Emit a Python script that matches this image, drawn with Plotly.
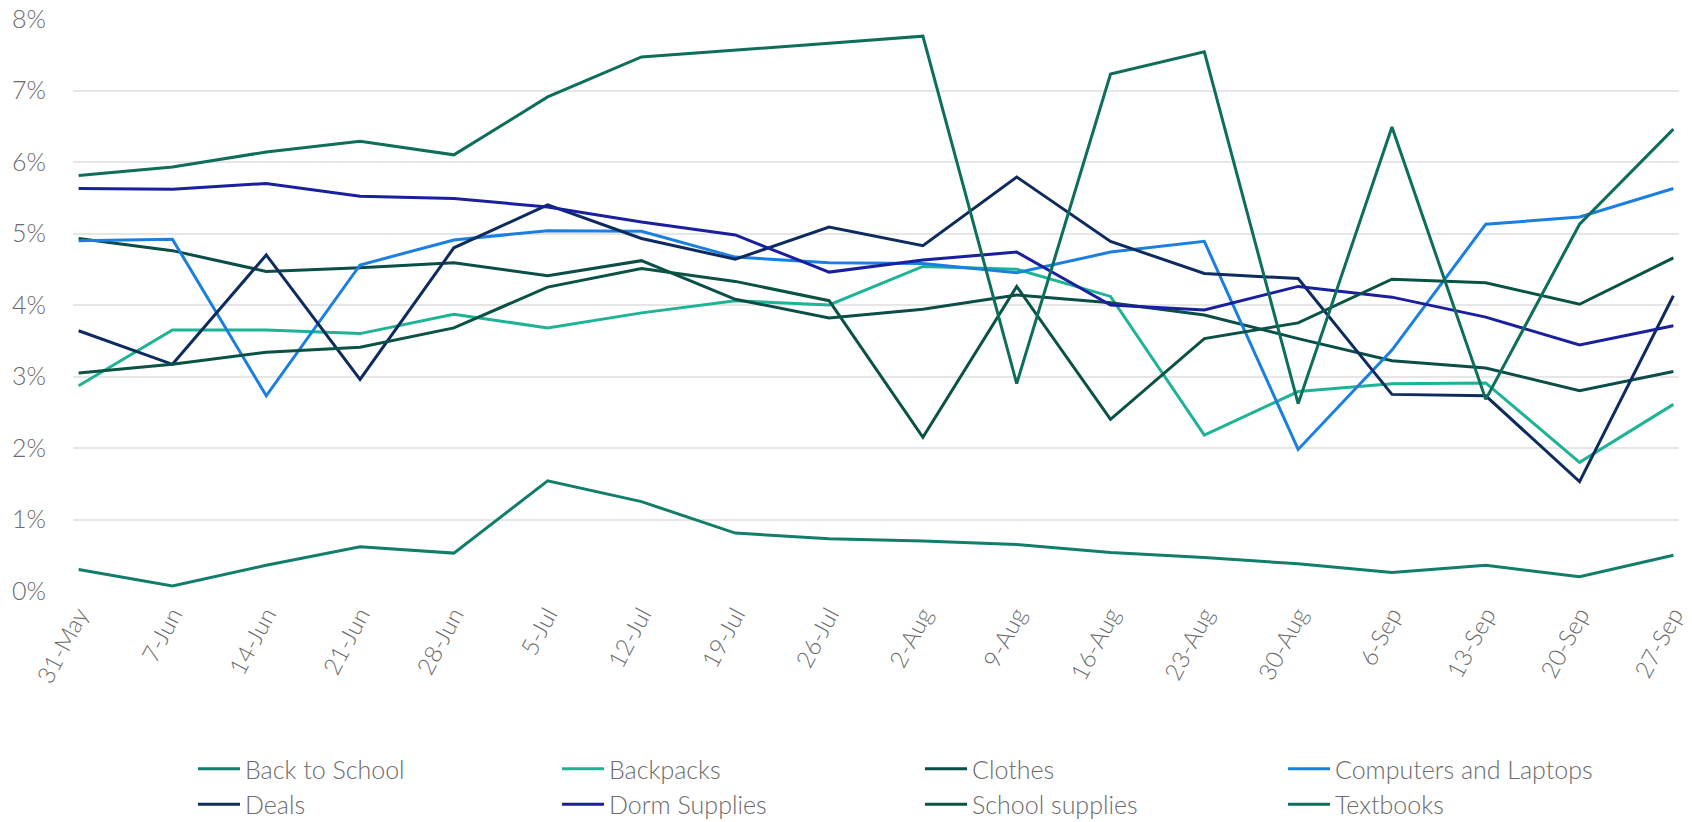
import plotly.graph_objects as go

# Weekly share of searches by back-to-school topic (%)
weeks = ["31-May", "7-Jun", "14-Jun", "21-Jun", "28-Jun", "5-Jul", "12-Jul", "19-Jul",
         "26-Jul", "2-Aug", "9-Aug", "16-Aug", "23-Aug", "30-Aug", "6-Sep", "13-Sep",
         "20-Sep", "27-Sep"]

back_to_school = [0.30, 0.07, 0.36, 0.62, 0.53, 1.54, 1.25, 0.81, 0.73, 0.70, 0.65, 0.54,
                  0.47, 0.38, 0.26, 0.36, 0.20, 0.50]
backpacks = [2.87, 3.65, 3.65, 3.60, 3.87, 3.68, 3.89, 4.06, 4.00, 4.54, 4.50, 4.12,
             2.18, 2.79, 2.90, 2.91, 1.80, 2.61]
clothes = [4.93, 4.76, 4.47, 4.52, 4.59, 4.41, 4.62, 4.08, 3.82, 3.94, 4.14, 4.03,
           3.86, 3.53, 3.22, 3.12, 2.80, 3.07]
computers_laptops = [4.90, 4.92, 2.73, 4.56, 4.91, 5.04, 5.03, 4.67, 4.59, 4.58, 4.45, 4.74,
                     4.89, 1.98, 3.37, 5.13, 5.23, 5.63]
deals = [3.64, 3.17, 4.70, 2.96, 4.80, 5.40, 4.93, 4.64, 5.09, 4.83, 5.79, 4.89,
         4.44, 4.37, 2.75, 2.73, 1.53, 4.13]
dorm_supplies = [5.63, 5.62, 5.70, 5.52, 5.49, 5.37, 5.16, 4.98, 4.46, 4.63, 4.74, 4.00,
                 3.93, 4.26, 4.11, 3.83, 3.44, 3.71]
school_supplies = [3.05, 3.17, 3.34, 3.41, 3.68, 4.25, 4.51, 4.33, 4.06, 2.15, 4.26, 2.40,
                   3.53, 3.75, 4.36, 4.31, 4.01, 4.66]
textbooks = [5.81, 5.93, 6.14, 6.29, 6.10, 6.91, 7.47, 7.56, 7.66, 7.76, 2.90, 7.23,
             7.54, 2.62, 6.49, 2.68, 5.13, 6.46]

y_ticks = [0, 1, 2, 3, 4, 5, 6, 7, 8]
y_tick_labels = ["0%", "1%", "2%", "3%", "4%", "5%", "6%", "7%", "8%"]

# name, values, colour, legend column
series = [
    ("Back to School", back_to_school, "#117d6b", "legend"),
    ("Backpacks", backpacks, "#1db394", "legend2"),
    ("Clothes", clothes, "#0b4d48", "legend3"),
    ("Computers and Laptops", computers_laptops, "#1a7fe0", "legend4"),
    ("Deals", deals, "#0d2b5e", "legend"),
    ("Dorm Supplies", dorm_supplies, "#1a1f9e", "legend2"),
    ("School supplies", school_supplies, "#0a5244", "legend3"),
    ("Textbooks", textbooks, "#0d6e5a", "legend4"),
]

FONT = "Lato"
TEXT = "#6b6b6b"
legend_font = dict(family=FONT, size=25, color=TEXT, weight=300)

fig = go.Figure()
for name, values, color, leg in series:
    fig.add_trace(go.Scatter(
        x=weeks, y=values, name=name, mode="lines", legend=leg,
        line=dict(color=color, width=3),
        hovertemplate="%{x}: %{y:.2f}%<extra>" + name + "</extra>",
    ))

# four legend columns laid out as a 4 x 2 grid under the chart
column_left = [193, 557, 920, 1283]
legend_layout = {}
for i, left in enumerate(column_left):
    key = "legend" if i == 0 else f"legend{i + 1}"
    legend_layout[key] = dict(
        orientation="v", xref="container", yref="container",
        x=left / 1692, xanchor="left", y=1 - 746 / 822, yanchor="top",
        font=legend_font, itemwidth=42, tracegroupgap=0,
        bgcolor="rgba(0,0,0,0)", borderwidth=0,
    )

fig.update_layout(
    width=1692, height=822,
    margin=dict(l=73, r=13, t=19, b=231, autoexpand=False),
    paper_bgcolor="white", plot_bgcolor="white",
    font=dict(family=FONT, size=25, color=TEXT, weight=300),
    showlegend=True,
    **legend_layout,
)

fig.update_xaxes(
    type="category", range=[-0.06, 17.06],
    showgrid=False, zeroline=False, showline=False,
    tickangle=-62, ticks="", ticklabelstandoff=4,
    tickfont=dict(family=FONT, size=24, color=TEXT, weight=300),
)

fig.update_yaxes(
    range=[0, 8], tickvals=y_ticks, ticktext=y_tick_labels,
    showgrid=True, gridcolor="#e6e6e6", gridwidth=1.5,
    zeroline=False, showline=False, ticks="", ticklabelstandoff=26,
    tickfont=dict(family=FONT, size=25, color=TEXT, weight=300),
)

fig.write_html("out.html")
